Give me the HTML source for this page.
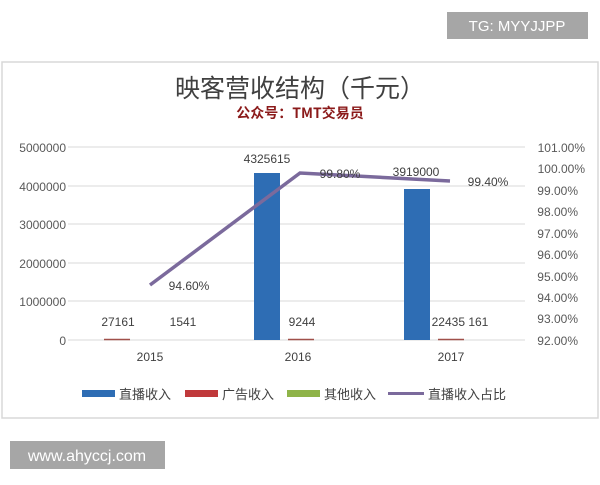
<!DOCTYPE html>
<html><head><meta charset="utf-8"><style>
body{margin:0;background:#fff;width:600px;height:480px;overflow:hidden;font-family:"Liberation Sans","Noto Sans CJK SC",sans-serif}
</style></head><body>
<svg width="600" height="480" xmlns="http://www.w3.org/2000/svg" font-family="Liberation Sans, Noto Sans CJK SC, sans-serif">
<rect x="0" y="0" width="600" height="480" fill="#fff"/>
<rect x="2" y="62" width="596" height="356" fill="#fff" stroke="#d8d8d8" stroke-width="1.5"/>
<rect x="447" y="12" width="141" height="27" fill="#a6a6a6"/>
<text x="517" y="31" font-size="15" fill="#fff" text-anchor="middle">TG: MYYJJPP</text>
<rect x="10" y="441" width="155" height="28" fill="#a6a6a6"/>
<text x="87" y="461" font-size="16" fill="#fff" text-anchor="middle">www.ahyccj.com</text>
<text x="300" y="97" font-size="25" fill="#404040" text-anchor="middle" font-family="Noto Sans CJK SC, sans-serif">映客营收结构（千元）</text>
<text x="300" y="118" font-size="14" font-weight="bold" fill="#8b1a1a" text-anchor="middle" font-family="Noto Sans CJK SC, sans-serif">公众号：TMT交易员</text>
<g stroke="#d9d9d9" stroke-width="1">
<line x1="68" y1="147" x2="525" y2="147"/><line x1="68" y1="186" x2="525" y2="186"/><line x1="68" y1="224" x2="525" y2="224"/><line x1="68" y1="263" x2="525" y2="263"/><line x1="68" y1="301" x2="525" y2="301"/><line x1="68" y1="340" x2="525" y2="340"/>
</g>
<g font-size="12" fill="#595959" text-anchor="end">
<text x="66" y="152">5000000</text><text x="66" y="191">4000000</text><text x="66" y="229">3000000</text><text x="66" y="268">2000000</text><text x="66" y="306">1000000</text><text x="66" y="345">0</text>
</g>
<g font-size="12" fill="#595959" text-anchor="end">
<text x="585" y="152">101.00%</text><text x="585" y="173">100.00%</text><text x="578" y="195">99.00%</text><text x="578" y="216">98.00%</text><text x="578" y="238">97.00%</text><text x="578" y="259">96.00%</text><text x="578" y="281">95.00%</text><text x="578" y="302">94.00%</text><text x="578" y="323">93.00%</text><text x="578" y="345">92.00%</text>
</g>
<rect x="254" y="173" width="26" height="167" fill="#2e6db4"/>
<rect x="404" y="189" width="26" height="151" fill="#2e6db4"/>
<g stroke="#a0504a" stroke-width="1.5"><line x1="104" y1="339.5" x2="130" y2="339.5"/><line x1="288" y1="339.5" x2="314" y2="339.5"/><line x1="438" y1="339.5" x2="464" y2="339.5"/></g>
<polyline points="150,285 300,173 450,181" fill="none" stroke="#7b6a9c" stroke-width="3.5"/>
<g font-size="12" fill="#404040" text-anchor="middle">
<text x="118" y="326">27161</text><text x="183" y="326">1541</text><text x="302" y="326">9244</text><text x="460" y="326">22435 161</text>
<text x="267" y="163">4325615</text><text x="416" y="176">3919000</text>
<text x="189" y="290">94.60%</text><text x="340" y="178">99.80%</text><text x="488" y="186">99.40%</text>
<text x="150" y="361">2015</text><text x="298" y="361">2016</text><text x="451" y="361">2017</text>
</g>
<g font-size="13" fill="#404040" font-family="Noto Sans CJK SC, sans-serif">
<rect x="82" y="390" width="33" height="7" fill="#2e6db4"/><text x="119" y="399">直播收入</text>
<rect x="185" y="390" width="33" height="7" fill="#c0393b"/><text x="222" y="399">广告收入</text>
<rect x="287" y="390" width="33" height="7" fill="#8fb449"/><text x="324" y="399">其他收入</text>
<rect x="388" y="392" width="36" height="3" fill="#7b6a9c"/><text x="428" y="399">直播收入占比</text>
</g>
</svg>
</body></html>
